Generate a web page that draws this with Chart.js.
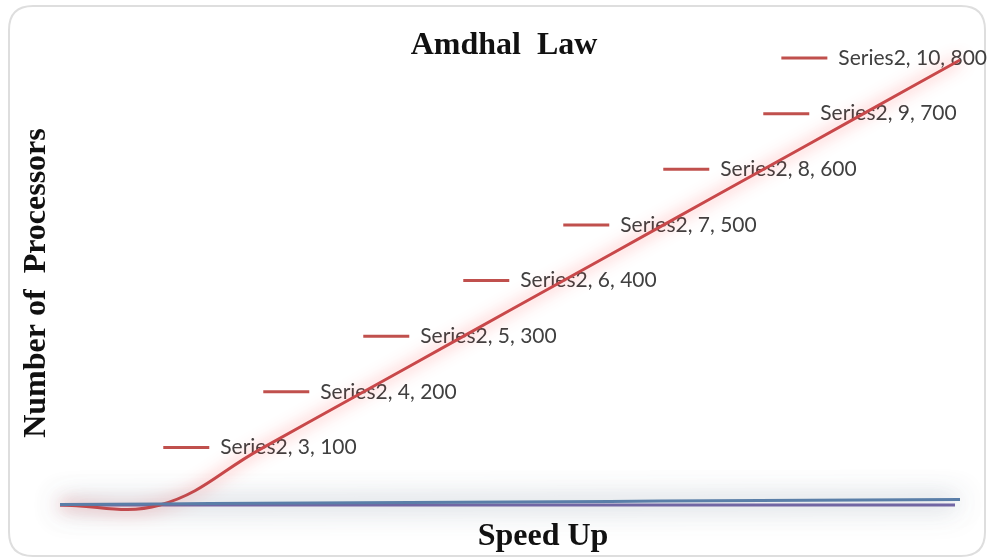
<!DOCTYPE html>
<html>
<head>
<meta charset="utf-8">
<script src="https://cdn.jsdelivr.net/npm/chart.js@4/dist/chart.umd.min.js"></script>
<style>
html,body{margin:0;padding:0;background:#fff;}
#wrap{width:987px;height:559px;position:relative;}
</style>
</head>
<body>
<div id="wrap"><canvas id="c" width="987" height="559"></canvas></div>
<script>
// ---- data ----
const categories = ['1','2','3','4','5','6','7','8','9','10'];
const series1 = [1, 2, 3, 4, 5, 6, 7, 8, 9, 10];
const series2 = [0, 0, 100, 200, 300, 400, 500, 600, 700, 800];
const series1Name = 'Series1';
const series2Name = 'Series2';
const chartTitle = 'Amdhal  Law';
const xTitle = 'Speed Up';
const yTitle = 'Number of  Processors';

const framePlugin = {
  id: 'frame',
  beforeDraw(chart) {
    const ctx = chart.ctx;
    ctx.save();
    ctx.fillStyle = '#ffffff';
    ctx.fillRect(0, 0, chart.width, chart.height);
    const x = 9, y = 6, w = 976, h = 550, r = 24;
    ctx.beginPath();
    ctx.moveTo(x + r, y);
    ctx.lineTo(x + w - r, y);
    ctx.quadraticCurveTo(x + w, y, x + w, y + r);
    ctx.lineTo(x + w, y + h - r);
    ctx.quadraticCurveTo(x + w, y + h, x + w - r, y + h);
    ctx.lineTo(x + r, y + h);
    ctx.quadraticCurveTo(x, y + h, x, y + h - r);
    ctx.lineTo(x, y + r);
    ctx.quadraticCurveTo(x, y, x + r, y);
    ctx.closePath();
    ctx.strokeStyle = '#dedede';
    ctx.lineWidth = 2;
    ctx.stroke();
    ctx.restore();
  },
  afterDraw(chart) {
    const ctx = chart.ctx;
    ctx.save();
    ctx.fillStyle = '#111111';
    ctx.textAlign = 'center';
    ctx.textBaseline = 'middle';
    ctx.font = 'bold 32px "Liberation Serif", "Times New Roman", serif';
    ctx.fillText(chartTitle, 504, 46);
    ctx.fillText(xTitle, 543, 537);
    ctx.translate(37, 283);
    ctx.rotate(-Math.PI / 2);
    ctx.fillText(yTitle, 0, 0);
    ctx.restore();
  }
};

const labelPlugin = {
  id: 'pointLabels',
  beforeDatasetsDraw(chart) {
    const ctx = chart.ctx;
    const meta = chart.getDatasetMeta(1);
    const xs = chart.scales.x;
    // axis line
    const y0 = chart.scales.y.getPixelForValue(0);
    ctx.save();
    ctx.shadowColor = 'rgba(80,100,120,0.7)';
    ctx.shadowBlur = 28;
    ctx.strokeStyle = '#7467a6';
    ctx.lineWidth = 3;
    ctx.beginPath();
    ctx.moveTo(xs.left, y0);
    ctx.lineTo(xs.right - 5, y0);
    ctx.stroke();
    ctx.restore();

    ctx.save();
    ctx.font = '21px Lato, "Liberation Sans", sans-serif';
    ctx.textBaseline = 'middle';
    for (let i = 2; i < series2.length; i++) {
      const pt = meta.data[i];
      const txt = series2Name + ', ' + categories[i] + ', ' + series2[i];
      const tw = ctx.measureText(txt).width;
      const lead = 46, gap = 11;
      const total = lead + gap + tw;
      let left = pt.x - total / 2;
      if (left + total > chart.width + 22) left = chart.width - total;
      const y = pt.y - 2;
      ctx.strokeStyle = '#c0504d';
      ctx.lineWidth = 3;
      ctx.beginPath();
      ctx.moveTo(left, y);
      ctx.lineTo(left + lead, y);
      ctx.stroke();
      ctx.fillStyle = '#404040';
      ctx.fillText(txt, left + lead + gap, y);
    }
    ctx.restore();
  },
  beforeDatasetDraw(chart, args) {
    const ctx = chart.ctx;
    ctx.save();
    if (args.index === 1) {
      ctx.shadowColor = 'rgba(255,50,50,0.7)';
      ctx.shadowBlur = 16;
    } else {
      ctx.shadowColor = 'rgba(80,100,130,0.6)';
      ctx.shadowBlur = 24;
    }
  },
  afterDatasetDraw(chart) {
    chart.ctx.restore();
  }
};

new Chart(document.getElementById('c'), {
  type: 'line',
  data: {
    labels: categories,
    datasets: [
      { label: series1Name, data: series1, borderColor: '#5a7ea8', borderWidth: 3, pointRadius: 0, tension: 0.4, clip: false, capBezierPoints: false },
      { label: series2Name, data: series2, borderColor: '#c8484a', borderWidth: 3, pointRadius: 0, tension: 0.4, clip: false, capBezierPoints: false }
    ]
  },
  options: {
    responsive: false,
    animation: false,
    events: [],
    layout: { padding: { left: 60, right: 27, top: 60, bottom: 54 } },
    plugins: { legend: { display: false }, title: { display: false }, tooltip: { enabled: false } },
    scales: {
      x: { display: false, offset: false },
      y: { display: false, min: 0, max: 800 }
    }
  },
  plugins: [framePlugin, labelPlugin]
});
</script>
</body>
</html>
